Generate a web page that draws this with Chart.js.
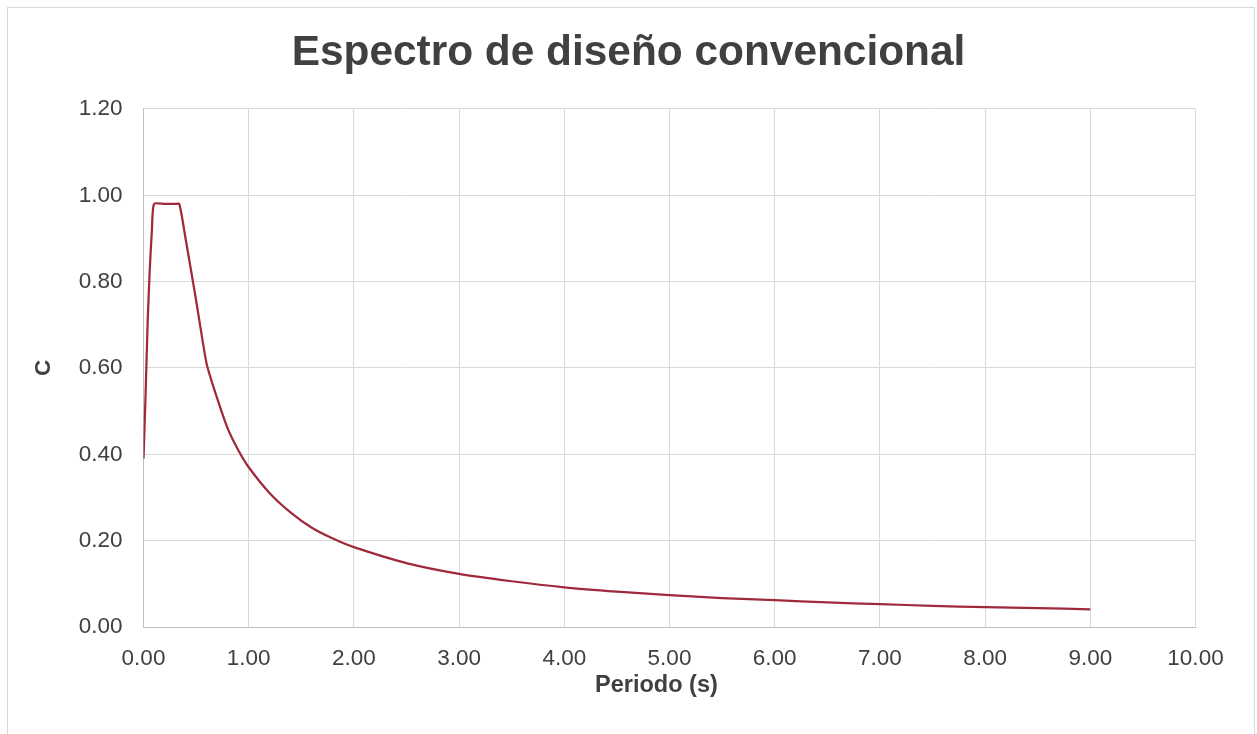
<!DOCTYPE html>
<html>
<head>
<meta charset="utf-8">
<script src="https://cdn.jsdelivr.net/npm/chart.js@4.4.1/dist/chart.umd.min.js"></script>
<style>
  html, body { margin: 0; padding: 0; background: #ffffff; width: 1257px; height: 734px; overflow: hidden; }
  #frame { position: absolute; left: 7px; top: 7px; width: 1248px; height: 760px; border: 1px solid #d9d9d9; box-sizing: border-box; }
  #c { position: absolute; left: 0; top: 0; }
</style>
</head>
<body>
<div id="frame"></div>
<canvas id="c" width="1257" height="734"></canvas>
<script>
// Periodo T (s) and spectral coefficient C
const periods = [0, 0.02, 0.04, 0.06, 0.08, 0.10, 0.20, 0.30, 0.34, 0.40, 0.50, 0.60,
                 0.70, 0.80, 0.90, 1.00, 1.20, 1.40, 1.60, 1.80, 2.00, 2.50, 3.00, 3.50,
                 4.00, 4.50, 5.00, 5.50, 6.00, 6.50, 7.00, 7.50, 8.00, 8.50, 9.00];
const cValues = [0.39, 0.54, 0.71, 0.83, 0.92, 0.98, 0.98, 0.98, 0.98, 0.90, 0.757, 0.61,
                 0.53, 0.46, 0.41, 0.37, 0.31, 0.265, 0.23, 0.205, 0.185, 0.148, 0.123, 0.106,
                 0.092, 0.082, 0.074, 0.067, 0.062, 0.057, 0.053, 0.049, 0.046, 0.044, 0.041];

const xTickLabels = ['0.00', '1.00', '2.00', '3.00', '4.00', '5.00', '6.00', '7.00', '8.00', '9.00', '10.00'];
const yTickLabels = ['0.00', '0.20', '0.40', '0.60', '0.80', '1.00', '1.20'];

const chartTitle = 'Espectro de diseño convencional';
const xTitle = 'Periodo (s)';
const yTitle = 'C';

const FONT = "'Liberation Sans', Arial, sans-serif";
const TEXT = '#404040';

const points = periods.map((t, i) => ({ x: t, y: cValues[i] }));

new Chart(document.getElementById('c'), {
  type: 'scatter',
  data: {
    datasets: [{
      data: points,
      showLine: true,
      borderColor: '#9e2a3b',
      borderWidth: 2.25,
      pointRadius: 0,
      pointHoverRadius: 0,
      tension: 0.2,
      fill: false
    }]
  },
  options: {
    responsive: false,
    devicePixelRatio: 1,
    animation: false,
    events: [],
    layout: { padding: { left: 0, right: 0, top: 0, bottom: 0 } },
    plugins: {
      legend: { display: false },
      tooltip: { enabled: false },
      title: {
        display: true,
        text: chartTitle,
        color: TEXT,
        font: { family: FONT, size: 42.4, weight: 'bold', lineHeight: 1.2 },
        padding: { top: 28, bottom: 30.1 }
      }
    },
    scales: {
      x: {
        type: 'linear',
        min: 0,
        max: 10,
        afterFit: (s) => { s.height = 107; },
        border: { display: true, color: '#bfbfbf', width: 1 },
        grid: { color: '#d9d9d9', lineWidth: 1, drawTicks: false },
        ticks: {
          stepSize: 1,
          padding: 18,
          color: TEXT,
          font: { family: FONT, size: 22.5 },
          maxRotation: 0,
          callback: (v, i) => xTickLabels[i]
        },
        title: {
          display: true,
          // trailing no-break spaces nudge the centred title slightly left
          text: xTitle + '\u00a0\u00a0\u00a0\u00a0',
          color: TEXT,
          font: { family: FONT, size: 23.5, weight: 'bold', lineHeight: 1.2 },
          padding: { top: 0, bottom: 34 }
        }
      },
      y: {
        type: 'linear',
        min: 0,
        max: 1.2,
        afterFit: (s) => { s.width = 143.5; },
        border: { display: true, color: '#bfbfbf', width: 1 },
        grid: { color: '#d9d9d9', lineWidth: 1, drawTicks: false },
        ticks: {
          stepSize: 0.2,
          padding: 21,
          color: TEXT,
          font: { family: FONT, size: 22.5 },
          callback: (v, i) => yTickLabels[i]
        },
        title: {
          display: true,
          text: yTitle,
          color: TEXT,
          font: { family: FONT, size: 22.5, weight: 'bold', lineHeight: 1.2 },
          padding: { top: 30, bottom: 0 }
        }
      },
      // empty right-hand margin of the plot
      yRight: {
        type: 'linear',
        position: 'right',
        min: 0,
        max: 1.2,
        afterFit: (s) => { s.width = 61.5; },
        border: { display: false },
        grid: { display: false, drawTicks: false },
        ticks: { display: false }
      }
    }
  }
});
</script>
</body>
</html>
